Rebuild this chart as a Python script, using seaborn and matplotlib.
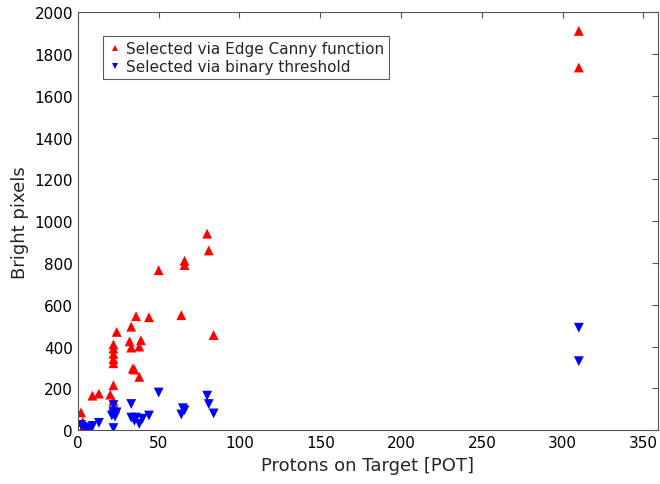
import matplotlib.pyplot as plt
import numpy as np
import pandas as pd
import seaborn as sns

sns.set_style("white")
plt.rcParams["font.family"] = ["DejaVu Sans"]

# Edge Canny selection
canny_pot = [310, 310, 80, 81, 66, 66, 50, 64, 84, 36, 44, 33, 24,
             22, 22, 22, 22, 22, 32, 39, 33, 38, 34, 35, 38, 22,
             9, 13, 20, 22, 2, 3, 5, 3, 8]
canny_px = [1910, 1735, 940, 860, 810, 790, 765, 550, 455, 545, 540, 495, 470,
            410, 390, 365, 340, 320, 425, 430, 395, 400, 295, 290, 255, 215,
            165, 175, 170, 140, 85, 40, 20, 10, 5]

# binary threshold selection
binary_pot = [310, 310, 80, 81, 84, 65, 66, 64, 50, 33,
              22, 22, 22, 21, 23, 24, 22, 33, 35, 38, 40, 44, 36,
              13, 9, 8, 5, 3, 2, 6]
binary_px = [490, 330, 165, 125, 80, 105, 95, 75, 180, 125,
             120, 90, 80, 70, 65, 85, 10, 60, 45, 30, 55, 70, 60,
             35, 20, 5, 10, 15, 25, 0]

label_canny = "Selected via Edge Canny function"
label_binary = "Selected via binary threshold"

df = pd.concat([
    pd.DataFrame({"pot": canny_pot, "pixels": canny_px, "method": label_canny}),
    pd.DataFrame({"pot": binary_pot, "pixels": binary_px, "method": label_binary}),
])

fig = plt.figure(figsize=(6.6, 4.85), dpi=100)
ax = fig.add_axes([0.118, 0.111, 0.879, 0.862])

sns.scatterplot(
    data=df, x="pot", y="pixels", hue="method", style="method",
    palette={label_canny: "#ff0000", label_binary: "#0000ff"},
    markers={label_canny: "^", label_binary: "v"},
    s=50, linewidth=0, ax=ax,
)

ax.set_xlim(0, 359)
ax.set_ylim(0, 2000)
ax.set_xticks(np.arange(0, 351, 50))
ax.set_yticks(np.arange(0, 2001, 200))
ax.tick_params(direction="in", length=4, labelsize=11, color="#555555",
               labelcolor="black", top=True, right=True)
for sp in ax.spines.values():
    sp.set_color("#555555")
    sp.set_linewidth(0.8)
ax.set_xlabel("Protons on Target [POT]", fontsize=13)
ax.set_ylabel("Bright pixels", fontsize=13)

handles, labels = ax.get_legend_handles_labels()
leg = ax.legend(handles, labels, loc="upper left", bbox_to_anchor=(0.03, 0.96),
                fontsize=11, frameon=True, fancybox=False, handletextpad=0.2,
                borderpad=0.3, labelspacing=0.2, handlelength=1.0,
                markerscale=0.7)
leg.get_frame().set_edgecolor("#333333")
leg.get_frame().set_linewidth(0.8)

fig.savefig("out.png", dpi=100)
